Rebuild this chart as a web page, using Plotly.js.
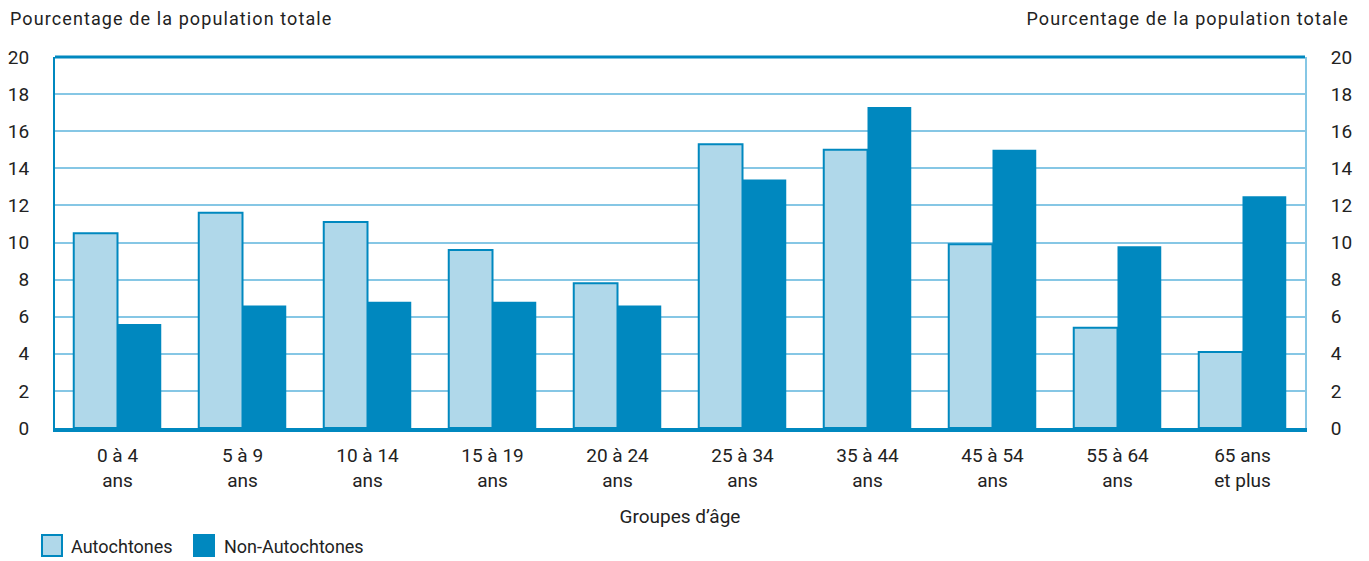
<!DOCTYPE html>
<html>
<head>
<meta charset="utf-8">
<script src="https://cdn.plot.ly/plotly-3.0.1.min.js"></script>
<style>html,body{margin:0;padding:0;background:#fff}#chart{width:1369px;height:561px}
.annotation-text.spaced{letter-spacing:1.1px}</style>
</head>
<body>
<div id="chart"></div>
<script>
const categories = ["0 à 4<br>ans","5 à 9<br>ans","10 à 14<br>ans","15 à 19<br>ans","20 à 24<br>ans","25 à 34<br>ans","35 à 44<br>ans","45 à 54<br>ans","55 à 64<br>ans","65 ans<br>et plus"];
const autochtones = [10.5, 11.6, 11.1, 9.6, 7.8, 15.3, 15.0, 9.9, 5.4, 4.1];
const nonAutochtones = [5.6, 6.6, 6.8, 6.8, 6.6, 13.4, 17.3, 15.0, 9.8, 12.5];
const yTicks = [0,2,4,6,8,10,12,14,16,18,20];
const seriesNames = ['Autochtones', 'Non-Autochtones'];
const yTitle = 'Pourcentage de la population totale';
const xTitle = 'Groupes d’âge';

const FONT = 'Roboto, "Liberation Sans", sans-serif';
const DARK = '#0088bf';
const LIGHT = '#b0d8ea';
const GRID = '#86c7e5';

const traces = [
  {type:'bar', name:seriesNames[0], x:categories, y:autochtones,
   marker:{color:LIGHT, line:{color:DARK, width:2}}, hoverinfo:'y', showlegend:false},
  {type:'bar', name:seriesNames[1], x:categories, y:nonAutochtones,
   marker:{color:DARK, line:{color:DARK, width:0}}, hoverinfo:'y', showlegend:false},
  {type:'scatter', x:categories, y:autochtones, yaxis:'y2', mode:'none', showlegend:false, hoverinfo:'skip'}
];

// plot area: x 55..1305, y 57..428 (height 371)
const PH = 371, PW = 1250;
const py = px => (428 - px) / PH;   // pixel y -> paper y
const pxx = px => (px - 55) / PW;   // pixel x -> paper x

const legendItems = [
  {x0:42, text:seriesNames[0], fill:LIGHT, line:DARK, tx:69},
  {x0:194, text:seriesNames[1], fill:DARK, line:DARK, tx:222}
];

const shapes = [
  {type:'line', xref:'paper', yref:'paper', x0:0, x1:1, y0:1, y1:1, line:{color:DARK, width:3}}
];
const annotations = [
  {xref:'paper', yref:'paper', x:pxx(8), y:py(18), xanchor:'left', yanchor:'middle', showarrow:false,
   text:yTitle, font:{family:FONT, size:18, color:'#222'}},
  {xref:'paper', yref:'paper', x:pxx(1351), y:py(18), xanchor:'right', yanchor:'middle', showarrow:false,
   text:yTitle, font:{family:FONT, size:18, color:'#222'}}
];
legendItems.forEach(it => {
  shapes.push({type:'rect', xref:'paper', yref:'paper', x0:pxx(it.x0), x1:pxx(it.x0+20), y0:py(556), y1:py(535),
               fillcolor:it.fill, line:{color:it.line, width:2}});
  annotations.push({xref:'paper', yref:'paper', x:pxx(it.tx), y:py(546), xanchor:'left', yanchor:'middle', showarrow:false,
                    text:it.text, font:{family:FONT, size:18, color:'#222'}});
});

const layout = {
  width:1369, height:561,
  margin:{l:55, r:64, t:57, b:133, autoexpand:false},
  paper_bgcolor:'#fff', plot_bgcolor:'#fff',
  font:{family:FONT, size:19, color:'#222'},
  barmode:'group', bargap:0.3, bargroupgap:0,
  showlegend:false,
  xaxis:{type:'category', showgrid:false, zeroline:false,
         showline:true, linecolor:DARK, linewidth:4,
         ticks:'outside', ticklen:7, tickcolor:'rgba(0,0,0,0)',
         tickfont:{family:FONT, size:19, color:'#222'},
         title:{text:xTitle, font:{family:FONT, size:19, color:'#222'}, standoff:20},
         fixedrange:true},
  yaxis:{range:[0,20], tickvals:yTicks, ticktext:yTicks.map(String),
         showgrid:true, gridcolor:GRID, gridwidth:2, zeroline:false,
         showline:true, linecolor:DARK, linewidth:2,
         ticks:'outside', ticklen:20, tickcolor:'rgba(0,0,0,0)',
         tickfont:{family:FONT, size:19, color:'#222'}, fixedrange:true},
  yaxis2:{range:[0,20], tickvals:yTicks, ticktext:yTicks.map(String), overlaying:'y', side:'right',
          showgrid:false, zeroline:false, showline:true, linecolor:GRID, linewidth:2,
          ticks:'outside', ticklen:20, tickcolor:'rgba(0,0,0,0)',
          tickfont:{family:FONT, size:19, color:'#222'}, fixedrange:true},
  shapes:shapes,
  annotations:annotations
};

Plotly.newPlot('chart', traces, layout, {displayModeBar:false, staticPlot:true}).then(gd => {
  // widen letter spacing of the two top titles, keeping their outer edges anchored
  const texts = gd.querySelectorAll('.annotation-text');
  for (let i = 0; i < 2 && i < texts.length; i++) {
    const t = texts[i];
    const before = t.getBBox();
    t.classList.add('spaced');
    const after = t.getBBox();
    const shift = (i === 0) ? (before.x - after.x)
                            : ((before.x + before.width) - (after.x + after.width));
    const nodes = [t].concat(Array.from(t.querySelectorAll('tspan[x]')));
    nodes.forEach(n => {
      const x = parseFloat(n.getAttribute('x') || '0');
      n.setAttribute('x', x + shift);
    });
  }
});
</script>
</body>
</html>
